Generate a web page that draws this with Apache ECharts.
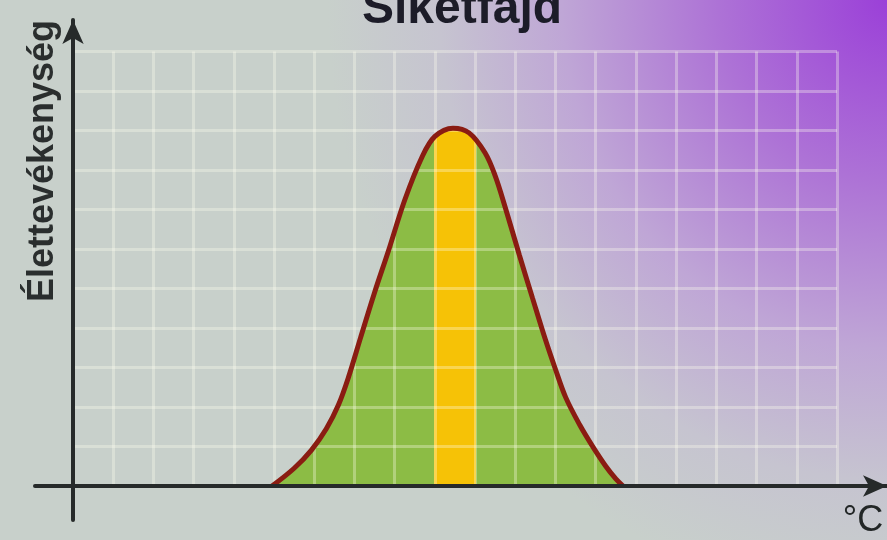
<!DOCTYPE html>
<html lang="hu">

<head>
    <meta charset="UTF-8">
    <title>Siketfajd</title>
    <style>
        html, body { margin: 0; padding: 0; }
        #main {
            width: 887px;
            height: 540px;
            background-color: #c8d0cb;
            background-image: radial-gradient(ellipse 560px 600px at 100% 0%, #9b40d8 0%, #ad72d6 30%, #bfa6d6 58%, #c6c4d0 80%, rgba(200,208,203,0) 100%);
        }
    </style>
</head>

<body>
    <div id="main"></div>
    <script src="https://cdn.jsdelivr.net/npm/echarts@6/dist/echarts.min.js"></script>
    <script>
        var myChart = echarts.init(document.getElementById('main'));

        var chartTitle = 'Siketfajd';
        var yName = 'Élettevékenység';
        var xName = '°C';

        // hőmérséklet (rácsegységben) és élettevékenység
        var temps = [4.95, 5.5, 5.93, 6.3, 6.6, 6.85, 7.15, 7.5, 7.85, 8.25, 8.68, 9.0, 9.45, 9.85, 10.25, 10.5, 10.75, 11.1, 11.43, 11.75, 12.0, 12.25, 12.6, 12.93, 13.25, 13.5, 13.68];
        var activity = [0, 0.45, 0.91, 1.45, 2.05, 2.75, 3.75, 4.9, 5.97, 7.24, 8.33, 8.85, 9.06, 8.94, 8.43, 7.85, 7.05, 5.85, 4.75, 3.7, 2.95, 2.25, 1.55, 0.99, 0.5, 0.18, 0];

        var curve = [];
        for (var i = 0; i < temps.length; i++) {
            curve.push([temps[i], activity[i]]);
        }

        var green = '#8cbc45';
        var yellow = '#f6c206';
        var gridLine = { color: 'rgba(255,255,240,0.32)', width: 3 };

        var option = {
            animation: false,
            grid: [
                { left: 73, right: 50, top: 51.5, bottom: 54 },
                { left: 35, right: 0, top: 20, bottom: 20 }
            ],
            xAxis: [
                {
                    type: 'value', gridIndex: 0, min: 0, max: 19, interval: 1, z: 5,
                    axisLine: { show: false }, axisTick: { show: false }, axisLabel: { show: false },
                    splitLine: { show: true, lineStyle: gridLine }
                },
                {
                    type: 'value', gridIndex: 1, min: -0.95, max: 20.35, z: 20,
                    axisLine: {
                        show: true, onZero: true,
                        symbol: ['none', 'arrow'], symbolSize: [16, 24],
                        lineStyle: { color: '#262a2a', width: 4 }
                    },
                    axisTick: { show: false }, axisLabel: { show: false }, splitLine: { show: false }
                }
            ],
            yAxis: [
                {
                    type: 'value', gridIndex: 0, min: 0, max: 11, interval: 1, z: 5,
                    axisLine: { show: false }, axisTick: { show: false }, axisLabel: { show: false },
                    splitLine: { show: true, lineStyle: gridLine }
                },
                {
                    type: 'value', gridIndex: 1, min: -0.861, max: 11.797, z: 20,
                    axisLine: {
                        show: true, onZero: true,
                        symbol: ['none', 'arrow'], symbolSize: [16, 24],
                        lineStyle: { color: '#262a2a', width: 4 }
                    },
                    axisTick: { show: false }, axisLabel: { show: false }, splitLine: { show: false }
                }
            ],
            series: [
                {
                    type: 'line', xAxisIndex: 0, yAxisIndex: 0, z: 1,
                    data: curve, smooth: 0.35, showSymbol: false,
                    lineStyle: { width: 0 },
                    areaStyle: {
                        opacity: 1,
                        color: new echarts.graphic.LinearGradient(0, 0, 1, 0, [
                            { offset: 0, color: green },
                            { offset: 0.462, color: green },
                            { offset: 0.462, color: yellow },
                            { offset: 0.58, color: yellow },
                            { offset: 0.58, color: green },
                            { offset: 1, color: green }
                        ])
                    }
                },
                {
                    type: 'line', xAxisIndex: 0, yAxisIndex: 0, z: 10,
                    data: curve, smooth: 0.35, showSymbol: false,
                    lineStyle: { color: '#8a1c12', width: 5 }
                }
            ],
            graphic: [
                {
                    type: 'text', x: 462, y: 10, z: 30,
                    style: {
                        text: chartTitle, fill: '#1c1c28',
                        font: 'bold 48px "Liberation Sans", Arial, sans-serif',
                        textAlign: 'center', textVerticalAlign: 'middle'
                    }
                },
                {
                    type: 'text', x: 43, y: 161, rotation: Math.PI / 2, z: 30,
                    style: {
                        text: yName, fill: '#2a2e2e',
                        font: 'bold 36px "Liberation Sans", Arial, sans-serif',
                        textAlign: 'center', textVerticalAlign: 'middle'
                    }
                },
                {
                    type: 'text', x: 863, y: 521, z: 30,
                    style: {
                        text: xName, fill: '#222626',
                        font: '36px "Liberation Sans", Arial, sans-serif',
                        textAlign: 'center', textVerticalAlign: 'middle'
                    }
                }
            ]
        };

        myChart.setOption(option);
    </script>
</body>

</html>
